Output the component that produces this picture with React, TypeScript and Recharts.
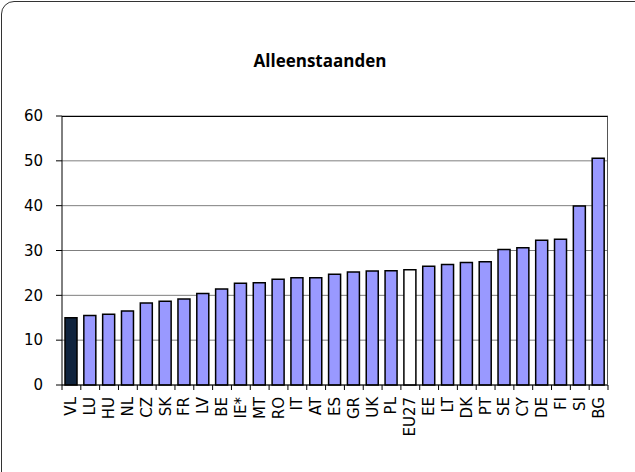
import React from 'react';
import { BarChart, Bar, XAxis, YAxis, CartesianGrid, Cell } from 'recharts';

const countries = ['VL', 'LU', 'HU', 'NL', 'CZ', 'SK', 'FR', 'LV', 'BE', 'IE*', 'MT', 'RO', 'IT', 'AT', 'ES', 'GR', 'UK', 'PL', 'EU27', 'EE', 'LT', 'DK', 'PT', 'SE', 'CY', 'DE', 'FI', 'SI', 'BG'];
const values = [15.0, 15.5, 15.8, 16.5, 18.3, 18.7, 19.2, 20.4, 21.4, 22.7, 22.8, 23.6, 23.9, 23.9, 24.7, 25.2, 25.4, 25.5, 25.7, 26.5, 26.9, 27.3, 27.5, 30.2, 30.6, 32.3, 32.5, 39.9, 50.6];
const yTicks = [0, 10, 20, 30, 40, 50, 60];

const BAR_FILL = '#9999FF';
const HIGHLIGHT = { VL: '#10243E', EU27: '#FFFFFF' } as Record<string, string>;
const FONT = 'DejaVu Sans, Verdana, sans-serif';

const data = countries.map((name, i) => ({ name, value: values[i] }));

// ticks sit between the categories, label rotated underneath
const CategoryTick = (props: any) => {
    const { x, y, payload, index, width } = props;
    const half = width / countries.length / 2;
    const last = index === countries.length - 1;
    return (
        <g>
            <line x1={x - half} y1={y} x2={x - half} y2={y + 5} stroke="#000" />
            {last && <line x1={x + half} y1={y} x2={x + half} y2={y + 5} stroke="#000" />}
            <text
                x={x}
                y={y + 12}
                transform={`rotate(-90, ${x}, ${y + 12})`}
                textAnchor="end"
                dominantBaseline="central"
                fontFamily={FONT}
                fontSize={15}
                fill="#000"
            >
                {payload.value}
            </text>
        </g>
    );
};

export default function App() {
    return (
        <div style={{ position: 'absolute', left: 0, top: 0, width: 635, height: 472, overflow: 'hidden', background: '#fff' }}>
            <div
                style={{
                    position: 'absolute',
                    left: 1,
                    top: 1,
                    width: 700,
                    height: 520,
                    border: '1.5px solid #333',
                    borderRadius: 13,
                }}
            />
            <div
                style={{
                    position: 'absolute',
                    top: 49,
                    left: 0,
                    width: 640,
                    textAlign: 'center',
                    fontFamily: 'Open Sans, sans-serif',
                    fontWeight: 700,
                    fontSize: 17,
                    lineHeight: '24px',
                }}
            >
                Alleenstaanden
            </div>
            <div style={{ position: 'absolute', left: 0, top: 0 }}>
                <BarChart
                    width={635}
                    height={472}
                    data={data}
                    margin={{ top: 116, right: 27, bottom: 0, left: 0 }}
                    barSize={12}
                >
                    <CartesianGrid vertical={false} stroke="#7f7f7f" strokeWidth={1} />
                    <XAxis
                        dataKey="name"
                        interval={0}
                        height={87}
                        tickLine={false}
                        tickSize={0}
                        tickMargin={0}
                        axisLine={{ stroke: '#000' }}
                        tick={<CategoryTick />}
                    />
                    <YAxis
                        width={62}
                        domain={[0, 60]}
                        ticks={yTicks}
                        interval={0}
                        tickSize={6}
                        tickMargin={13}
                        axisLine={{ stroke: '#000' }}
                        tickLine={{ stroke: '#000' }}
                        tick={{ fill: '#000', fontSize: 15, fontFamily: FONT }}
                    />
                    <Bar dataKey="value" stroke="#000" strokeWidth={1.5} isAnimationActive={false}>
                        {data.map((d, i) => (
                            <Cell key={`cell-${i}`} fill={HIGHLIGHT[d.name] ?? BAR_FILL} />
                        ))}
                    </Bar>
                </BarChart>
            </div>
            {/* top and right edge of the plot box */}
            <div style={{ position: 'absolute', left: 62, top: 116, width: 546, height: 269, borderTop: '1px solid #000', borderRight: '1px solid #555', boxSizing: 'border-box', pointerEvents: 'none' }} />
        </div>
    );
}
